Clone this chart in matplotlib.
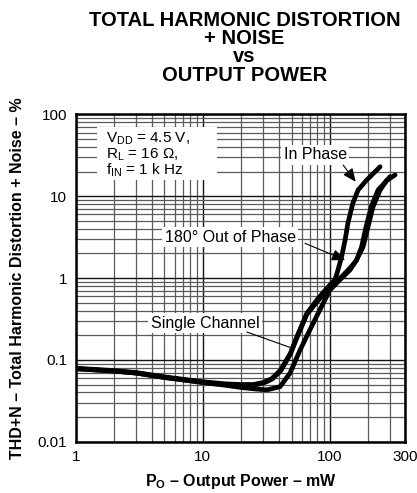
import numpy as np
import matplotlib
matplotlib.use("Agg")
import matplotlib.pyplot as plt
from matplotlib.ticker import LogLocator, NullFormatter, FixedLocator, FixedFormatter
from matplotlib.patches import Rectangle

plt.rcParams['font.family'] = ['Liberation Sans', 'DejaVu Sans']
plt.rcParams['mathtext.fontset'] = 'custom'
plt.rcParams['mathtext.rm'] = 'Liberation Sans'
plt.rcParams['mathtext.it'] = 'Liberation Sans:italic'
plt.rcParams['mathtext.bf'] = 'Liberation Sans:bold'

# ---- data ----
in_phase_p = [1, 2, 3, 5, 7, 10, 15, 20, 25, 30, 35, 41, 49, 55, 66, 80, 95, 110, 116, 124, 132, 139, 152, 167, 195, 249]
in_phase_thd = [0.079, 0.074, 0.070, 0.062, 0.058, 0.054, 0.051, 0.050, 0.050, 0.053, 0.059, 0.075, 0.12, 0.19, 0.37, 0.55, 0.75, 0.95, 1.25, 1.82, 2.9, 4.7, 8.2, 11.9, 15.7, 22.9]

single_p = [1, 2, 3, 5, 7, 10, 15, 20, 25, 30, 35, 41, 49, 55, 66, 80, 95, 110, 125, 144, 163, 178, 193, 212, 240, 270, 298]
single_thd = [0.078, 0.073, 0.069, 0.061, 0.057, 0.053, 0.050, 0.049, 0.049, 0.052, 0.058, 0.073, 0.118, 0.185, 0.36, 0.52, 0.70, 0.88, 1.05, 1.32, 1.66, 2.4, 4.2, 7.4, 11.9, 14.5, 17.3]

out_phase_p = [1, 2, 3, 5, 7, 10, 15, 20, 26.6, 32, 40.6, 48.7, 58.4, 74, 100, 120, 144, 160, 183, 200, 219, 249, 280, 327]
out_phase_thd = [0.078, 0.073, 0.069, 0.061, 0.057, 0.053, 0.049, 0.046, 0.044, 0.043, 0.047, 0.069, 0.132, 0.28, 0.71, 0.95, 1.25, 1.6, 2.41, 4.23, 7.43, 11.9, 15.5, 18.2]

x_tick_vals = [1, 10, 100]
x_tick_labels = ['1', '10', '100', '300']
y_tick_vals = [0.01, 0.1, 1, 10, 100]
y_tick_labels = ['0.01', '0.1', '1', '10', '100']

XMAX = 392  # right edge of the plotting frame (labelled 300 in the original)

fig = plt.figure(figsize=(4.17, 4.93), dpi=100)
ax = fig.add_axes([0.1815, 0.104, 0.790, 0.664])
ax.set_xscale('log')
ax.set_yscale('log')
ax.set_xlim(1, XMAX)
ax.set_ylim(0.01, 100)

# grid
ax.xaxis.set_major_locator(FixedLocator(x_tick_vals + [XMAX]))
ax.xaxis.set_major_formatter(FixedFormatter(x_tick_labels))
ax.xaxis.set_minor_locator(LogLocator(base=10, subs=np.arange(2, 10), numticks=50))
ax.xaxis.set_minor_formatter(NullFormatter())
ax.yaxis.set_major_locator(FixedLocator(y_tick_vals))
ax.yaxis.set_major_formatter(FixedFormatter(y_tick_labels))
ax.yaxis.set_minor_locator(LogLocator(base=10, subs=np.arange(2, 10), numticks=50))
ax.yaxis.set_minor_formatter(NullFormatter())
ax.grid(which='major', color='#111111', lw=1.0, zorder=0)
ax.grid(which='minor', color='#5a5a5a', lw=0.9, zorder=0)
ax.set_axisbelow(True)
ax.tick_params(which='both', length=0)
ax.tick_params(axis='x', pad=6, labelsize=11)
ax.tick_params(axis='y', pad=6, labelsize=11)
for s in ax.spines.values():
    s.set_linewidth(1.8)
    s.set_zorder(5)

# curves
for p, t in [(out_phase_p, out_phase_thd), (single_p, single_thd), (in_phase_p, in_phase_thd)]:
    ax.plot(p, t, color='black', lw=3.4, solid_capstyle='round', solid_joinstyle='round', zorder=3)

# conditions box
ax.add_patch(Rectangle((0.065, 0.800), 0.364, 0.161, transform=ax.transAxes,
                       facecolor='white', edgecolor='none', zorder=2))
cond_lines = ['V$_{\\mathrm{DD}}$ = 4.5 V,', 'R$_{\\mathrm{L}}$ = 16 \u03a9,', 'f$_{\\mathrm{IN}}$ = 1 k Hz']
for i, line in enumerate(cond_lines):
    ax.text(0.092, 0.9134 - 0.0485 * i, line, transform=ax.transAxes, ha='left', va='baseline',
            fontsize=11, zorder=4)

box = dict(facecolor='white', edgecolor='none', pad=2.0)
ax.text(0.727, 0.876, 'In Phase', transform=ax.transAxes, ha='center', va='center',
        fontsize=11.5, bbox=box, zorder=4)
ax.text(0.469, 0.625, '180\u00b0 Out of Phase', transform=ax.transAxes, ha='center', va='center',
        fontsize=11.5, bbox=box, zorder=4)
ax.text(0.393, 0.3626, 'Single Channel', transform=ax.transAxes, ha='center', va='center',
        fontsize=11.5, bbox=box, zorder=4)

head = dict(arrowstyle='-|>,head_length=0.8,head_width=0.35', color='black', lw=0.8, shrinkA=0, shrinkB=0)
ax.annotate('', xy=(160, 15.0), xycoords='data', xytext=(0.812, 0.845), textcoords='axes fraction',
            arrowprops=head, zorder=4)
ax.annotate('', xy=(132, 1.66), xycoords='data', xytext=(0.696, 0.606), textcoords='axes fraction',
            arrowprops=head, zorder=4)
ax.annotate('', xy=(50, 0.14), xycoords='data', xytext=(0.52, 0.335), textcoords='axes fraction',
            arrowprops=dict(arrowstyle='-', color='black', lw=0.8, shrinkA=0, shrinkB=0), zorder=4)

# axis labels
ax.set_xlabel('P$_{\\mathbf{O}}$ \u2013 Output Power \u2013 mW', fontsize=11.5, fontweight='bold', labelpad=6)
ax.set_ylabel('THD+N \u2013 Total Harmonic Distortion + Noise \u2013 %', fontsize=11.5, fontweight='bold', labelpad=9)

# title
title_lines = ['TOTAL HARMONIC DISTORTION', '+ NOISE', 'vs', 'OUTPUT POWER']
for i, line in enumerate(title_lines):
    fig.text(244.5 / 417, 1 - (20 + 18.5 * i) / 493, line, ha='center', va='center',
             fontsize=14.5, fontweight='bold')

fig.savefig('out.png', dpi=100)
